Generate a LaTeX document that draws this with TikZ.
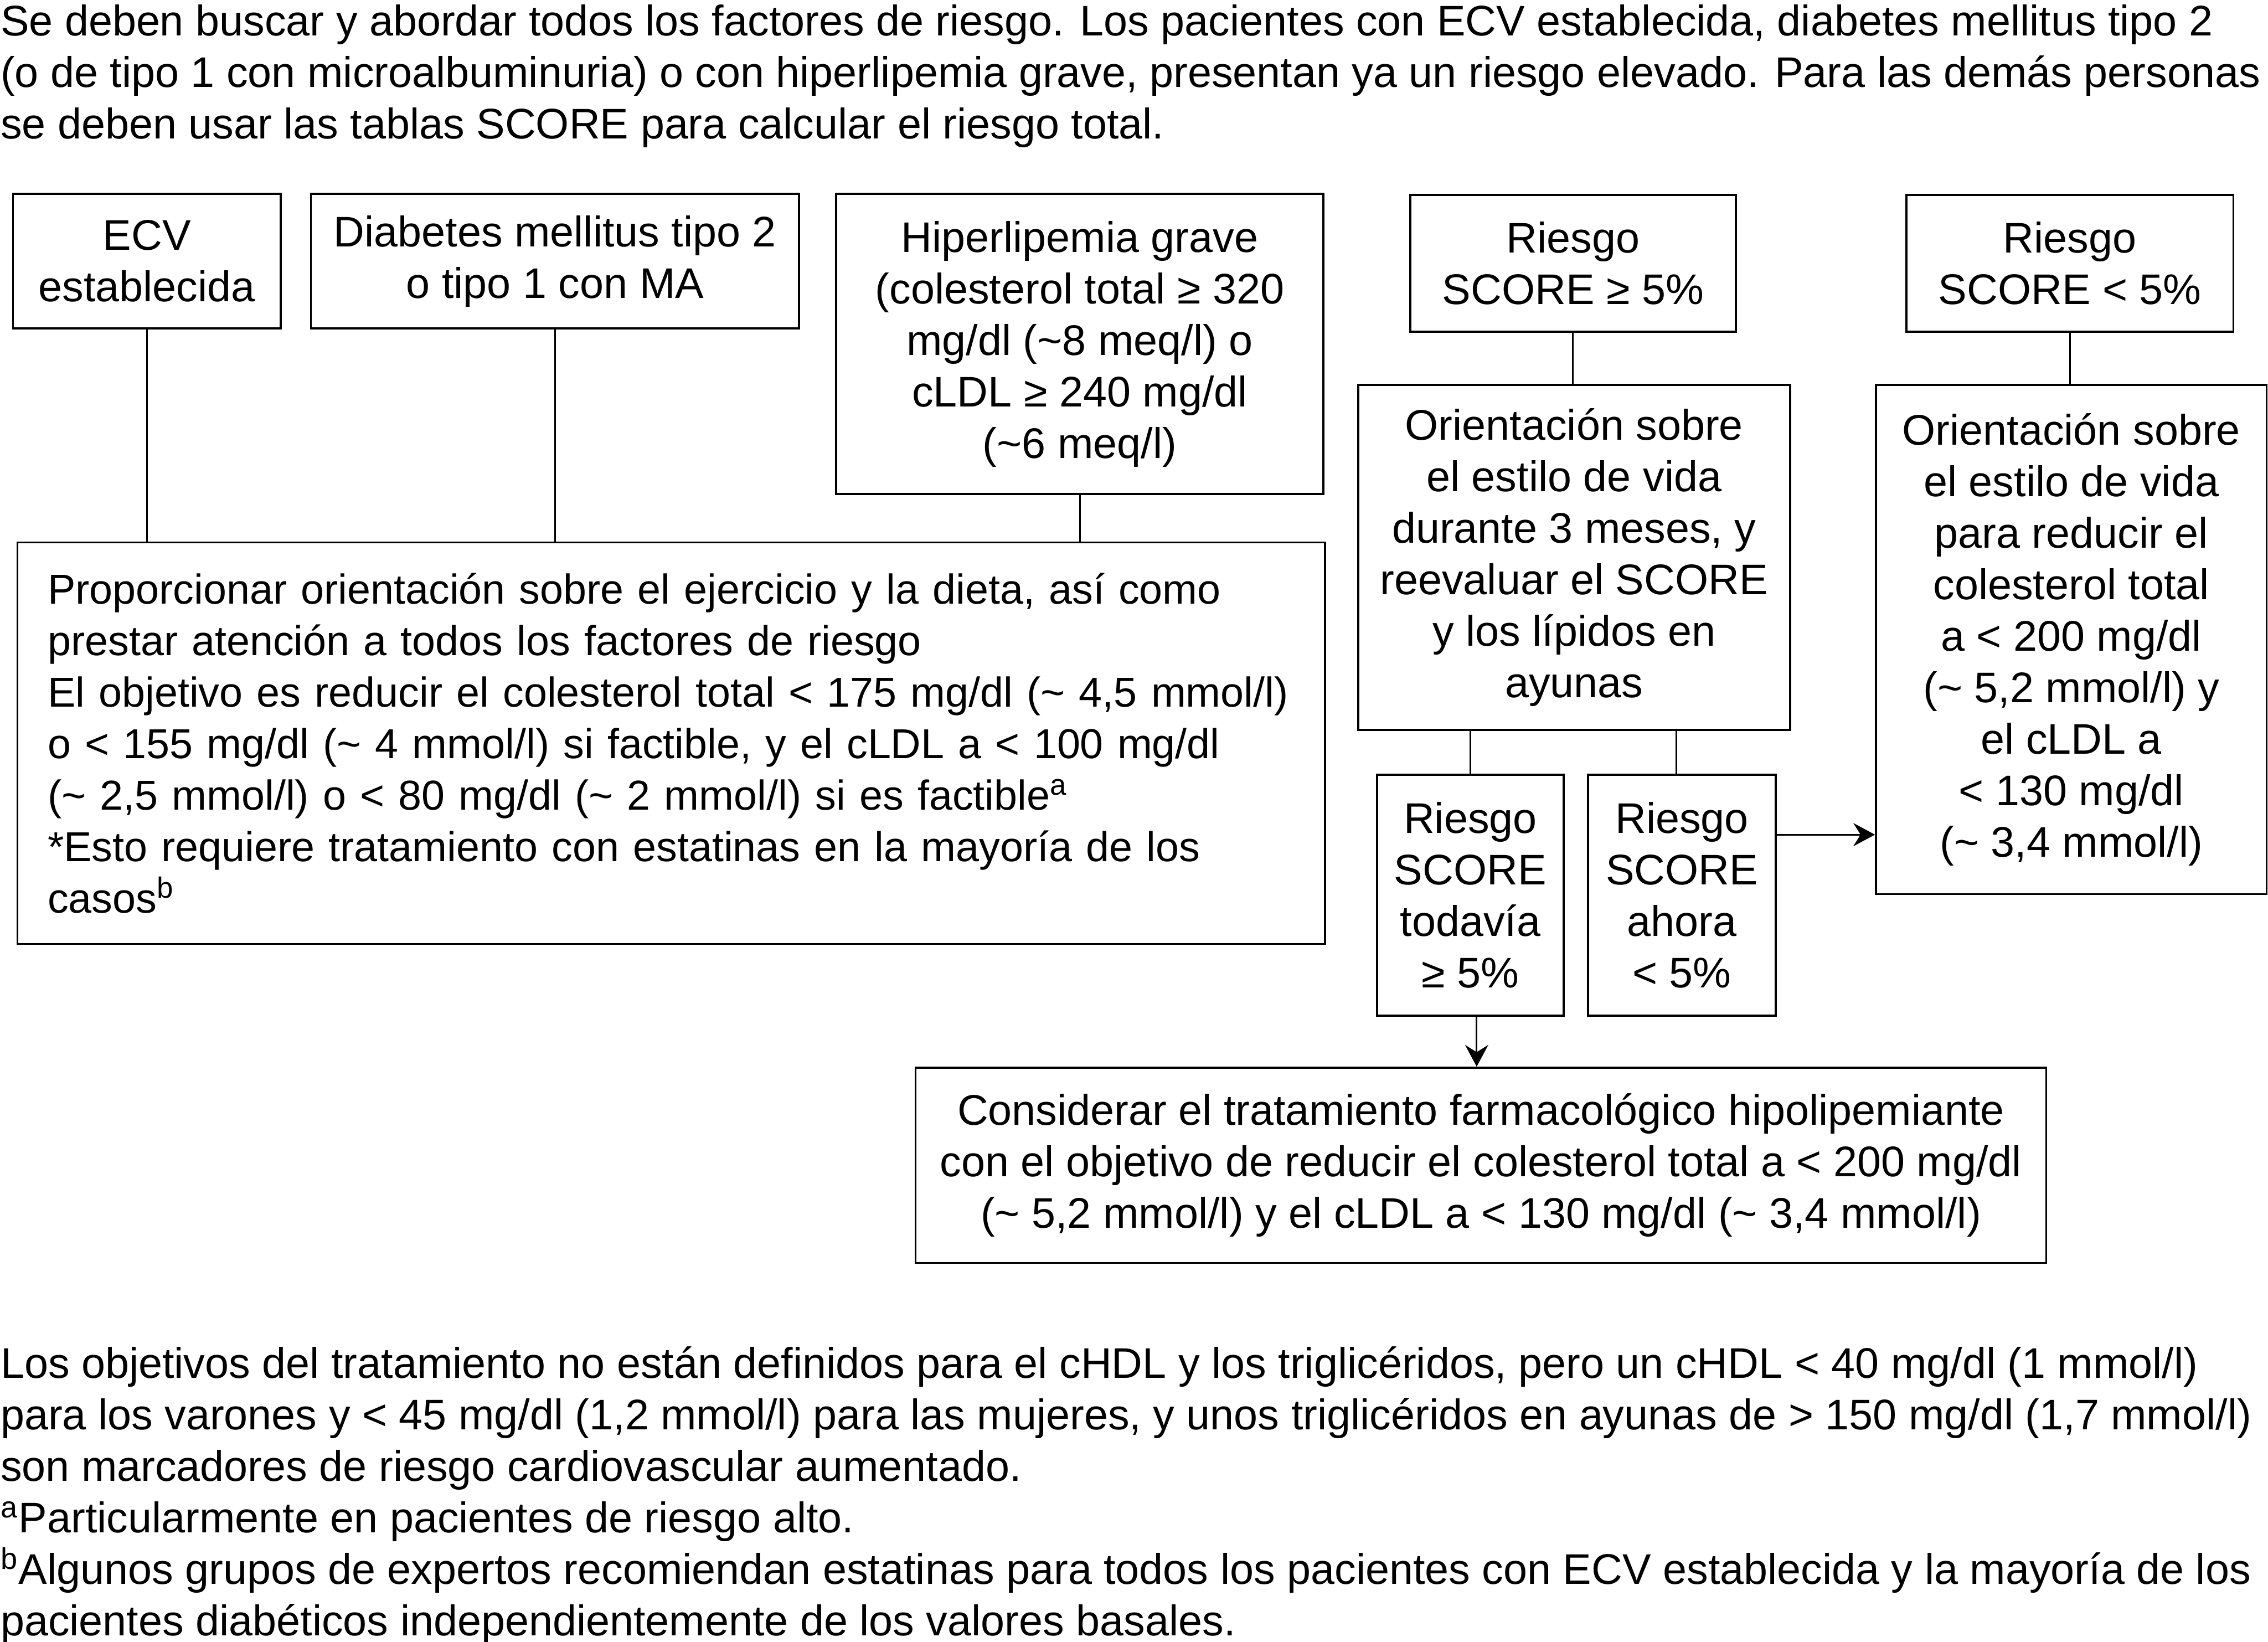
\documentclass[tikz,border=0pt]{standalone}
\usepackage{fontspec}
\setmainfont{Liberation Sans}
\usetikzlibrary{arrows.meta}
\begin{document}
\begin{tikzpicture}[x=0.5pt,y=-0.5pt,
  every node/.style={font=\fontsize{14.8}{17.8}\selectfont},
  box/.style={draw, line width=0.7pt, align=center, inner sep=0pt},
  conn/.style={line width=0.55pt},
  arr/.style={line width=0.55pt, -{Stealth[length=7.5pt,width=8pt,inset=2.5pt]}},
  plain/.style={inner sep=0pt, align=left}]
\useasboundingbox (0,0) rectangle (1568,1135);
\fill[white] (0,0) rectangle (1568,1135);

% top paragraph
\node[plain, anchor=north west] (intro) at (0,3)
 {Se deben buscar y abordar todos los factores de riesgo. Los pacientes con ECV establecida, diabetes mellitus tipo 2\\
  (o de tipo 1 con microalbuminuria) o con hiperlipemia grave, presentan ya un riesgo elevado. Para las demás personas\\
  se deben usar las tablas SCORE para calcular el riesgo total.};

% top boxes
\node[box, minimum width=92.5pt, minimum height=46.5pt] (ecv) at (101.5,180.5)
 {ECV\\establecida};
\node[box, minimum width=168.75pt, minimum height=46.5pt] (dm) at (383.75,180.5)
 {Diabetes mellitus tipo 2\\o tipo 1 con MA};
\node[box, minimum width=168.5pt, minimum height=103.75pt] (hl) at (746.5,237.75)
 {Hiperlipemia grave\\(colesterol total ≥ 320\\mg/dl (\textasciitilde 8 meq/l) o\\cLDL ≥ 240 mg/dl\\(\textasciitilde 6 meq/l)};
\node[box, minimum width=112.5pt, minimum height=47.25pt] (s1) at (1087.5,182)
 {Riesgo\\SCORE ≥ 5\%};
\node[box, minimum width=113pt, minimum height=47.25pt] (s2) at (1431,182)
 {Riesgo\\SCORE < 5\%};

% main left box
\node[box, align=left, text width=431pt, inner xsep=10.5pt, minimum height=138.75pt,
      font=\fontsize{14.45}{17.8}\selectfont] (main) at (464,513.75)
 {Proporcionar orientación sobre el ejercicio y la dieta, así como\\
  prestar atención a todos los factores de riesgo\\
  El objetivo es reducir el colesterol total < 175 mg/dl (\textasciitilde{} 4,5 mmol/l)\\
  o < 155 mg/dl (\textasciitilde{} 4 mmol/l) si factible, y el cLDL a < 100 mg/dl\\
  (\textasciitilde{} 2,5 mmol/l) o < 80 mg/dl (\textasciitilde{} 2 mmol/l) si es factible\textsuperscript{a}\\
  {*}Esto requiere tratamiento con estatinas en la mayoría de los\\
  casos\textsuperscript{b}};

% right column
\node[box, minimum width=149.25pt, minimum height=119.25pt] (o1) at (1088.25,385.25)
 {Orientación sobre\\el estilo de vida\\durante 3 meses, y\\reevaluar el SCORE\\y los lípidos en\\ayunas};
\node[box, minimum width=135pt, minimum height=176pt] (o2) at (1432,442)
 {Orientación sobre\\el estilo de vida\\para reducir el\\colesterol total\\a < 200 mg/dl\\(\textasciitilde{} 5,2 mmol/l) y\\el cLDL a\\< 130 mg/dl\\(\textasciitilde{} 3,4 mmol/l)};
\node[box, minimum width=64.5pt, minimum height=83.25pt] (t1) at (1016.5,618.75)
 {Riesgo\\SCORE\\todavía\\≥ 5\%};
\node[box, minimum width=64.8pt, minimum height=83.25pt] (t2) at (1162.8,618.75)
 {Riesgo\\SCORE\\ahora\\< 5\%};
\node[box, minimum width=390.85pt, minimum height=67.5pt] (cons) at (1023.85,805.5)
 {Considerar el tratamiento farmacológico hipolipemiante\\con el objetivo de reducir el colesterol total a < 200 mg/dl\\(\textasciitilde{} 5,2 mmol/l) y el cLDL a < 130 mg/dl (\textasciitilde{} 3,4 mmol/l)};

% connectors
\draw[conn] (ecv.south) -- (ecv.south |- main.north);
\draw[conn] (dm.south) -- (dm.south |- main.north);
\draw[conn] (hl.south) -- (hl.south |- main.north);
\draw[conn] (s1.south) -- (s1.south |- o1.north);
\draw[conn] (s2.south) -- (s2.south |- o2.north);
\draw[conn] (t1.north) -- (t1.north |- o1.south);
\draw[conn] ([xshift=-2pt]t2.north) -- ([xshift=-2pt]t2.north |- o1.south);
\draw[arr] ([yshift=20.9pt]t2.east) -- ([yshift=20.9pt]t2.east -| o2.west);
\draw[arr] ([xshift=2.2pt]t1.south) -- ([xshift=2.2pt]t1.south |- cons.north);

% bottom notes
\node[plain, anchor=north west] (notes) at (0,930.5)
 {Los objetivos del tratamiento no están definidos para el cHDL y los triglicéridos, pero un cHDL < 40 mg/dl (1 mmol/l)\\
  para los varones y < 45 mg/dl (1,2 mmol/l) para las mujeres, y unos triglicéridos en ayunas de > 150 mg/dl (1,7 mmol/l)\\
  son marcadores de riesgo cardiovascular aumentado.\\
  \textsuperscript{a}Particularmente en pacientes de riesgo alto.\\
  \textsuperscript{b}Algunos grupos de expertos recomiendan estatinas para todos los pacientes con ECV establecida y la mayoría de los\\
  pacientes diabéticos independientemente de los valores basales.};
\end{tikzpicture}
\end{document}
